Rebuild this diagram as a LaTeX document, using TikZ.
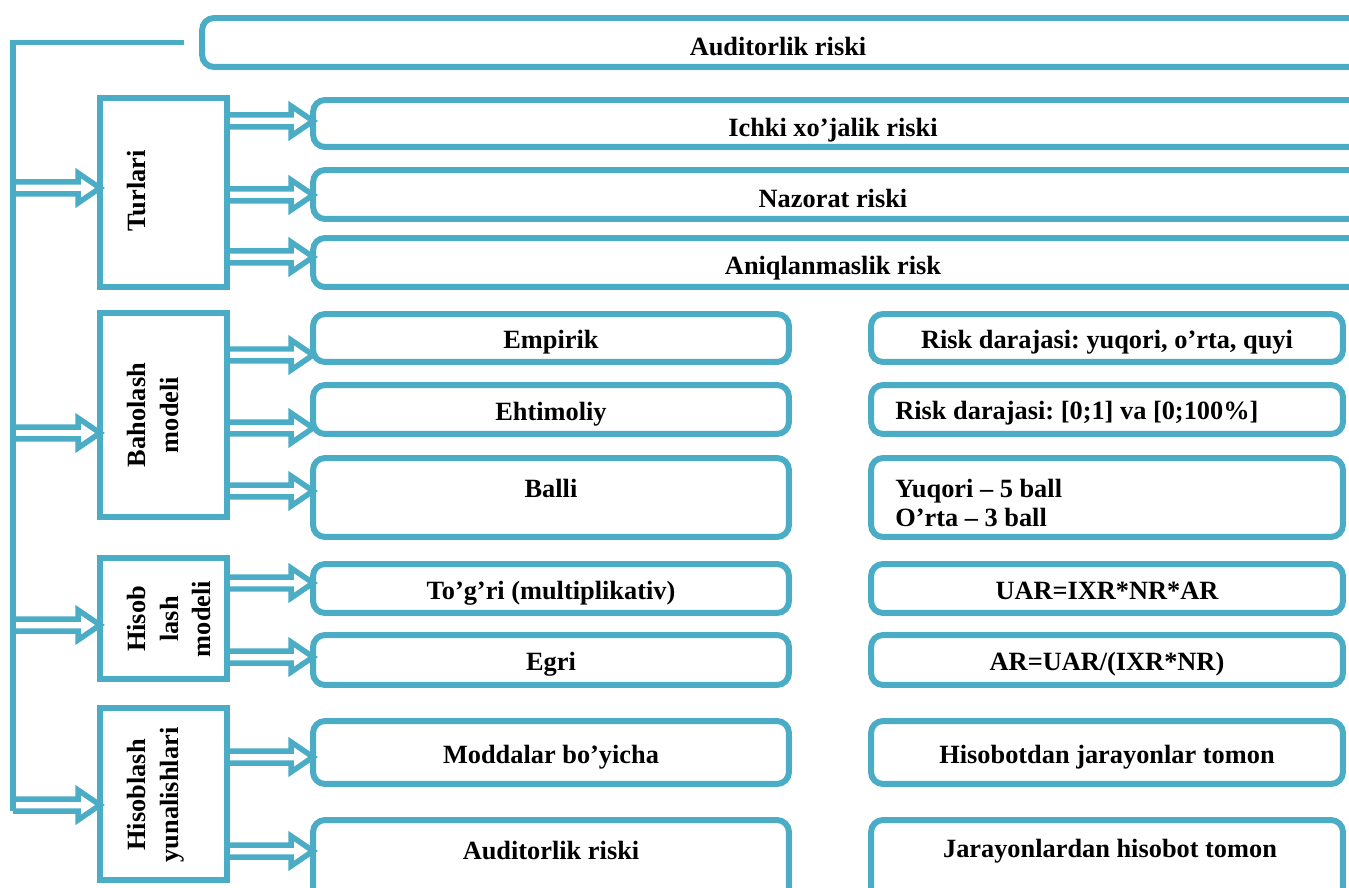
\documentclass[tikz,border=0pt]{standalone}
\usepackage{fontspec}
\setmainfont{Liberation Serif}
\frenchspacing
\usetikzlibrary{calc}
\definecolor{acc}{HTML}{4BACC6}

\tikzset{
  rbox/.style={draw=acc, line width=0.12cm, rounded corners=0.24cm, inner sep=0pt,
    text height=0.45cm, text depth=0.02cm,
    font=\bfseries\fontsize{15}{17.5}\selectfont, align=center},
  sbox/.style={draw=acc, line width=0.12cm, inner sep=0pt},
  vtext/.style={rotate=90, anchor=north, inner sep=0pt, align=center,
    font=\bfseries\fontsize{15}{18.5}\selectfont},
  wtext/.style={inner sep=0pt, font=\bfseries\fontsize{15}{17}\selectfont},
  bus/.style={draw=acc, line width=0.11cm},
  blockarr/.style={draw=acc, line width=0.11cm, to path={
    let \p1=(\tikztostart), \p2=(\tikztotarget) in
    (\x1,\y1+0.12cm) -- (\x2-0.38cm,\y1+0.12cm) -- (\x2-0.38cm,\y1+0.3cm)
    -- (\x2+0.06cm,\y1) -- (\x2-0.38cm,\y1-0.3cm) -- (\x2-0.38cm,\y1-0.12cm)
    -- (\x1,\y1-0.12cm)}}
}

\begin{document}
\begin{tikzpicture}[x=0.02cm, y=-0.02cm]

        \useasboundingbox (0,0) rectangle (1349,888);
        \clip (0,0) rectangle (1349,888);

        % top box
        \node[rbox, minimum width=23.56cm, minimum height=0.98cm] (audit) at (791, 42.5) {};
        \node[wtext] (audit-t) at (778, 47) {Auditorlik riski};

        % left column
        \node[sbox, minimum width=2.54cm, minimum height=3.78cm] (turlari) at (163.5, 192.5) {};
        \node[sbox, minimum width=2.54cm, minimum height=4.08cm] (baholash) at (163.5, 415) {};
        \node[sbox, minimum width=2.54cm, minimum height=2.42cm] (hisob) at (163.5, 618.5) {};
        \node[sbox, minimum width=2.54cm, minimum height=3.44cm] (yunal) at (163.5, 794) {};
        \node[vtext] (turlari-t) at (127, 191) {Turlari};
        \node[vtext] (baholash-t) at (127, 415) {Baholash\\modeli};
        \node[vtext] (hisob-t) at (127, 619) {Hisob\\lash\\modeli};
        \node[vtext] (yunal-t) at (127, 795) {Hisoblash\\yunalishlari};

        % wide boxes
        \node[rbox, minimum width=21.34cm, minimum height=0.94cm] (ichki) at (846.5, 123.5) {};
        \node[rbox, minimum width=21.34cm, minimum height=0.98cm] (nazorat) at (846.5, 194.5) {};
        \node[rbox, minimum width=21.34cm, minimum height=0.98cm] (aniq) at (846.5, 262.5) {};
        \node[wtext] (ichki-t) at (833, 130) {Ichki xo’jalik riski};
        \node[wtext] (nazorat-t) at (833, 198) {Nazorat riski};
        \node[wtext] (aniq-t) at (833, 268) {Aniqlanmaslik risk};

        % middle column
        \node[rbox, minimum width=9.52cm, minimum height=0.96cm] (empirik) at (551, 338) {Empirik};
        \node[rbox, minimum width=9.52cm, minimum height=0.98cm] (ehtim) at (551, 409.5) {Ehtimoliy};
        \node[rbox, minimum width=9.52cm, minimum height=1.58cm] (balli) at (551, 497.5) {};
        \node[wtext] (balli-t) at (551, 488) {Balli};
        \node[rbox, minimum width=9.52cm, minimum height=0.98cm] (togri) at (551, 588.5) {To’g’ri (multiplikativ)};
        \node[rbox, minimum width=9.52cm, minimum height=1.0cm] (egri) at (551, 660) {Egri};
        \node[rbox, minimum width=9.52cm, minimum height=1.26cm] (modda) at (551, 752.5) {Moddalar bo’yicha};
        \node[rbox, minimum width=9.52cm, minimum height=1.6cm] (auditb) at (551, 860) {};
        \node[wtext] (auditb-t) at (551, 851) {Auditorlik riski};

        % right column
        \node[rbox, minimum width=9.44cm, minimum height=0.96cm] (rd1) at (1107, 338) {Risk darajasi: yuqori, o’rta, quyi};
        \node[rbox, minimum width=9.44cm, minimum height=0.98cm] (rd2) at (1107, 409.5) {};
        \node[wtext, anchor=west] (rd2-t) at (895, 413) {Risk darajasi: [0;1] va [0;100\%]};
        \node[rbox, minimum width=9.44cm, minimum height=1.58cm] (yuq) at (1107, 497.5) {};
        \node[wtext, anchor=west, align=left] (yuq-t) at (895, 503) {Yuqori – 5 ball\\O’rta – 3 ball};
        \node[rbox, minimum width=9.44cm, minimum height=0.98cm] (uar) at (1107, 588.5) {UAR=IXR*NR*AR};
        \node[rbox, minimum width=9.44cm, minimum height=1.0cm] (ar) at (1107, 660) {AR=UAR/(IXR*NR)};
        \node[rbox, minimum width=9.44cm, minimum height=1.26cm] (hisobot) at (1107, 752.5) {Hisobotdan jarayonlar tomon};
        \node[rbox, minimum width=9.44cm, minimum height=1.6cm] (jarayon) at (1107, 860) {};
        \node[wtext] (jarayon-t) at (1110, 851) {Jarayonlardan hisobot tomon};

        % bus on the left
        \coordinate (b1) at (13, 188);
        \coordinate (b2) at (13, 433);
        \coordinate (b3) at (13, 625);
        \coordinate (b4) at (13, 805);
        \coordinate (busend) at (13, 811);
        \draw[bus] ([xshift=-0.3cm]audit.west) -| (busend);

        \path
        (b1) edge[blockarr] (turlari.west)
        (b2) edge[blockarr] (baholash.west)
        (b3) edge[blockarr] (hisob.west)
        (b4) edge[blockarr] (yunal.west)
        (turlari.east |- 0,121) edge[blockarr] (ichki.west)
        (turlari.east |- 0,195) edge[blockarr] (nazorat.west)
        (turlari.east |- 0,257) edge[blockarr] (aniq.west)
        (baholash.east |- 0,355) edge[blockarr] (empirik.west)
        (baholash.east |- 0,428) edge[blockarr] (ehtim.west)
        (baholash.east |- 0,491) edge[blockarr] (balli.west)
        (hisob.east |- 0,583) edge[blockarr] (togri.west)
        (hisob.east |- 0,657) edge[blockarr] (egri.west)
        (yunal.east |- 0,757) edge[blockarr] (modda.west)
        (yunal.east |- 0,851) edge[blockarr] (auditb.west)
        ;

    \end{tikzpicture}
\end{document}
